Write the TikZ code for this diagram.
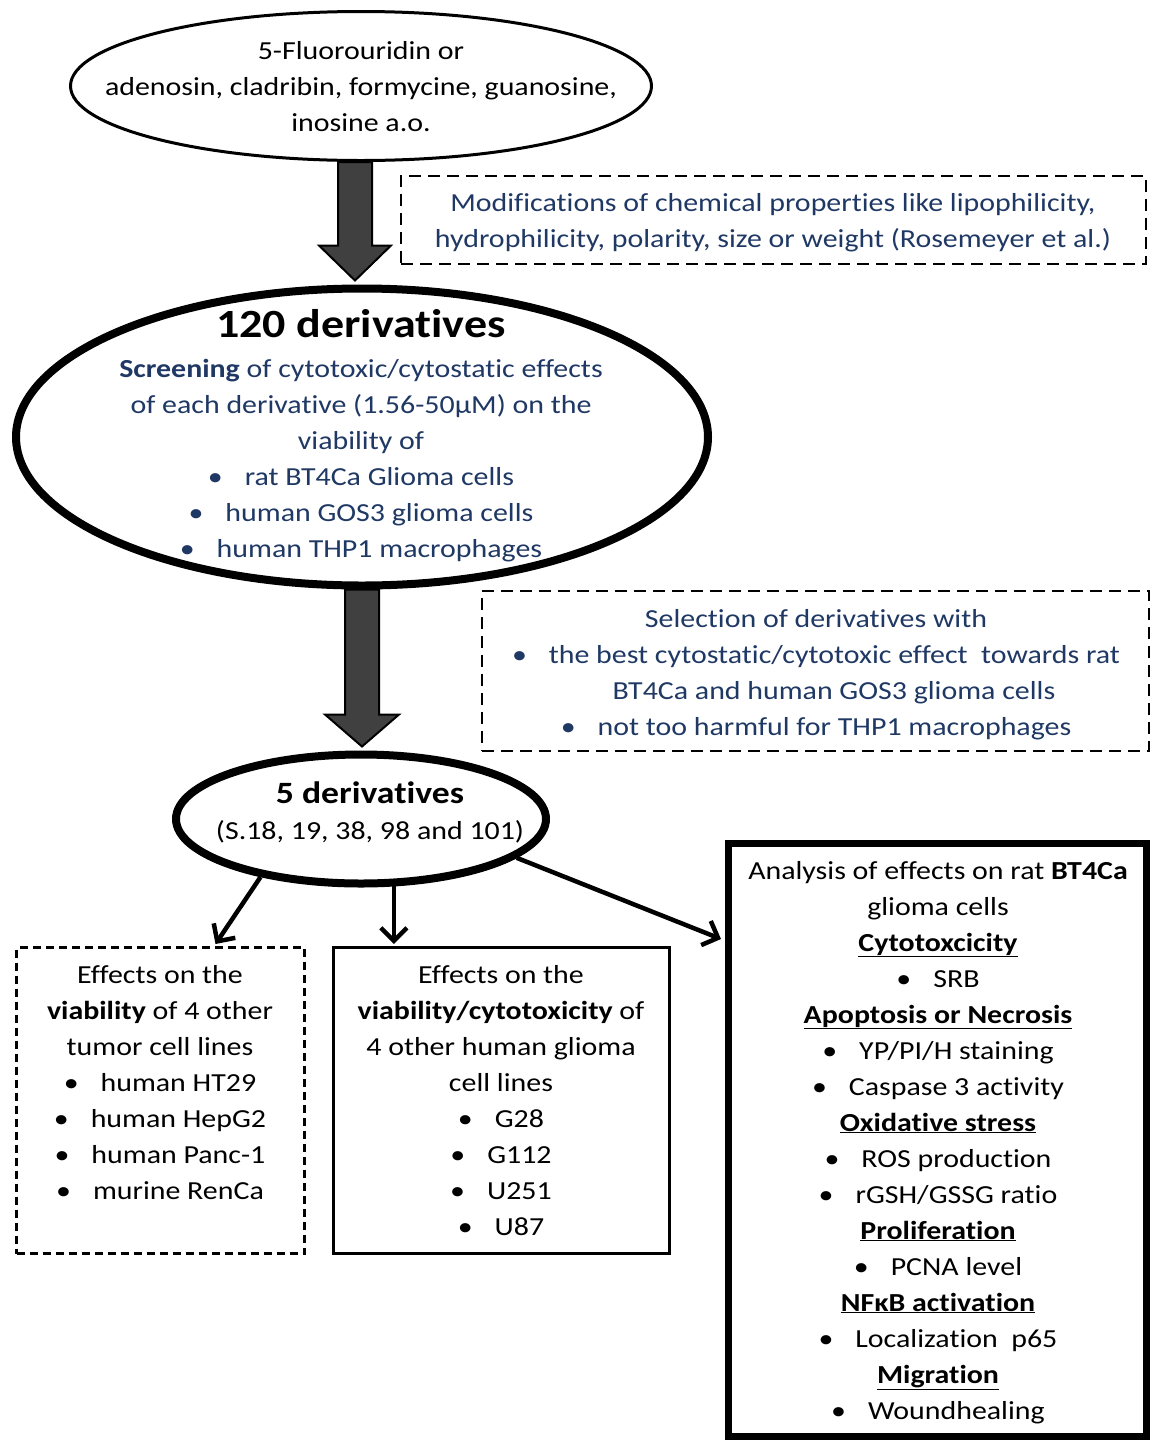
\documentclass[tikz,border=0pt]{standalone}
\usepackage{fontspec}
\setmainfont{Carlito}[FakeStretch=1.15, Ligatures={NoCommon}]
\usetikzlibrary{shapes.geometric,arrows.meta,calc}
\definecolor{navy}{HTML}{1F3864}
\definecolor{fatgray}{HTML}{404040}
\newcommand\bul{\textbullet\hspace{22pt}}
\begin{document}
\begin{tikzpicture}[x=1pt,y=-1pt,
  ell/.style={ellipse, draw=black, fill=white, inner sep=0pt},
  box/.style={rectangle, draw=black, inner sep=0pt},
  dbox/.style={box, line width=2pt, dash pattern=on 12pt off 7pt},
  txt/.style={font=\fontsize{26}{36}\selectfont, align=center, inner sep=0pt, anchor=base},
  fat/.style={draw=black, line width=2pt, fill=fatgray, line join=miter},
  thinarrow/.style={line width=4.5pt, -{Straight Barb[length=13pt, width=26pt]}}]
\useasboundingbox (0,0) rectangle (1152,1441);

% shapes
\node[ell, line width=3pt, minimum width=581pt, minimum height=149pt] (src) at (361,86) {};
\node[ell, line width=8pt, minimum width=692pt, minimum height=297pt] (der) at (362,437) {};
\node[ell, line width=8pt, minimum width=370pt, minimum height=129pt] (five) at (361,819) {};
\node[dbox, minimum width=745pt, minimum height=88pt] (mod) at (773.5,220) {};
\node[dbox, minimum width=667pt, minimum height=160pt] (sel) at (815.5,671) {};
\node[box, line width=3pt, dash pattern=on 8pt off 5pt, minimum width=288pt, minimum height=306pt] (lbox) at (160.5,1100.5) {};
\node[box, line width=3pt, minimum width=336pt, minimum height=306pt] (mbox) at (501.5,1100.5) {};
\node[box, line width=7pt, minimum width=418pt, minimum height=593pt] (rbox) at (937.5,1140) {};

% texts (anchor base = baseline of the last line)
\node[txt] (srct) at (361,131) {5-Fluorouridin or\\adenosin, cladribin, formycine, guanosine,\\inosine a.o.};
\node[txt, text=navy] (modt) at (773,247) {Modifications of chemical properties like lipophilicity,\\hydrophilicity, polarity, size or weight (Rosemeyer et al.)};
\node[txt, font=\fontsize{40}{48}\bfseries] (dert) at (361,337) {120 derivatives};
\node[txt, text=navy] (derb) at (361,557) {\textbf{Screening} of cytotoxic/cytostatic effects\\of each derivative (1.56-50µM) on the\\viability of\\\bul rat BT4Ca Glioma cells\\\bul human GOS3 glioma cells\\\bul human THP1 macrophages};
\node[txt, text=navy] (selt) at (816,735) {Selection of derivatives with\\\bul the best cytostatic/cytotoxic effect\ \ towards rat\\\hspace*{36pt}BT4Ca and human GOS3 glioma cells\\\bul not too harmful for THP1 macrophages};
\node[txt, font=\fontsize{31}{36}\bfseries] (fivet) at (370,803) {5 derivatives};
\node[txt] (fiveb) at (370,839) {(S.18, 19, 38, 98 and 101)};
\node[txt] (lboxt) at (160,1199) {Effects on the\\\textbf{viability} of 4 other\\tumor cell lines\\\bul human HT29\\\bul human HepG2\\\bul human Panc-1\\\bul murine RenCa};
\node[txt] (mboxt) at (501,1235) {Effects on the\\\textbf{viability/cytotoxicity} of\\4 other human glioma\\cell lines\\\bul G28\\\bul G112\\\bul U251\\\bul U87};
\node[txt] (rboxt) at (938,1419) {Analysis of effects on rat \textbf{BT4Ca}\\glioma cells\\\underline{\textbf{Cytotoxcicity}}\\\bul SRB\\\underline{\textbf{Apoptosis or Necrosis}}\\\bul YP/PI/H staining\\\bul Caspase 3 activity\\\underline{\textbf{Oxidative stress}}\\\bul ROS production\\\bul rGSH/GSSG ratio\\\underline{\textbf{Proliferation}}\\\bul PCNA level\\\underline{\textbf{NFκB activation}}\\\bul Localization\ \ p65\\\underline{\textbf{Migration}}\\\bul Woundhealing};

% fat arrows
\coordinate (tip1) at ($(der.north)+(-7,-4)$);
\coordinate (base1) at (tip1 |- src.south);
\draw[fat] ($(base1)+(-17,0)$) -- ($(tip1)+(-17,-35)$) -- ($(tip1)+(-36,-35)$) -- (tip1)
  -- ($(tip1)+(36,-35)$) -- ($(tip1)+(17,-35)$) -- ($(base1)+(17,0)$) -- cycle;
\coordinate (tip2) at ($(five.north)+(1,-4)$);
\coordinate (base2) at (tip2 |- der.south);
\draw[fat] ($(base2)+(-17,0)$) -- ($(tip2)+(-17,-32)$) -- ($(tip2)+(-37,-32)$) -- (tip2)
  -- ($(tip2)+(37,-32)$) -- ($(tip2)+(17,-32)$) -- ($(base2)+(17,0)$) -- cycle;

% thin arrows
\draw[thinarrow] (five.210) -- ($(lbox.north)+(55,-2)$);
\draw[thinarrow] (five.296) -- ($(five.296 |- mbox.north)+(0,-2)$);
\draw[thinarrow] (five.346) -- ($(rbox.north west)+(-4,99)$);
\end{tikzpicture}
\end{document}
